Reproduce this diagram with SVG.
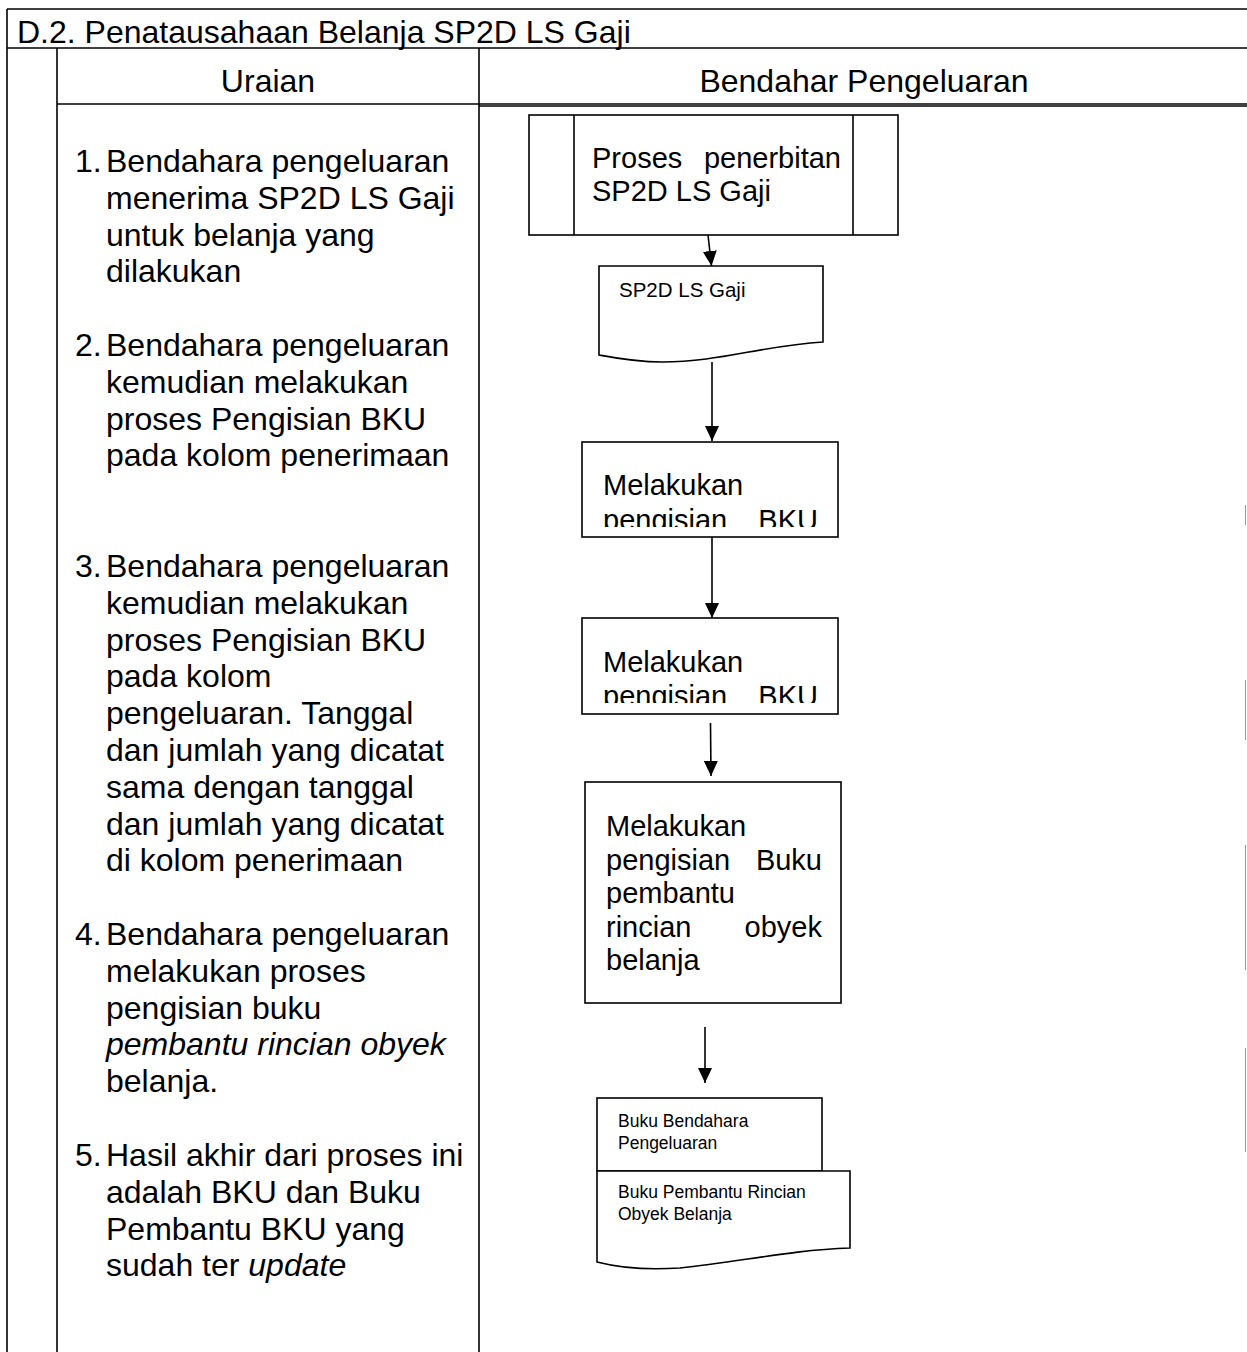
<svg xmlns="http://www.w3.org/2000/svg" width="1247" height="1352" viewBox="0 0 1247 1352">
<style>
  .ln { stroke:#000; stroke-width:1.6; fill:none; }
  .shape { stroke:#000; stroke-width:1.6; fill:#fff; }
  .t { font-family:"Liberation Sans", Arial, sans-serif; fill:#000; }
  .title { font-size:32px; }
  .hdr { font-size:32px; text-anchor:middle; }
  .ur { font-size:32px; }
  .bx { font-size:29px; }
  .doc { font-size:17.5px; }
  .docL { font-size:20.5px; }
  .it { font-style:italic; }
  .faint { stroke:#999; stroke-width:1; }
</style>
<defs>
  <marker id="arr" viewBox="0 0 15 14" refX="15" refY="7" markerWidth="15" markerHeight="14" markerUnits="userSpaceOnUse" orient="auto">
    <path d="M0,0 L15,7 L0,14 Z" fill="#000"/>
  </marker>
  <clipPath id="clip1"><rect x="582" y="442" width="256" height="85"/></clipPath>
  <clipPath id="clip2"><rect x="582" y="618" width="256" height="85"/></clipPath>
</defs>
<rect width="1247" height="1352" fill="#fff"/>

<g id="table">
  <line class="ln" x1="7" y1="9" x2="1247" y2="9"/>
  <line class="ln" x1="7" y1="48" x2="1247" y2="48"/>
  <line class="ln" x1="7" y1="9" x2="7" y2="1352"/>
  <line class="ln" x1="57" y1="48" x2="57" y2="1352"/>
  <line class="ln" x1="479" y1="48" x2="479" y2="1352"/>
  <line class="ln" x1="57" y1="104" x2="1247" y2="104"/>
  <line class="ln" x1="479" y1="106" x2="1247" y2="106" stroke-width="1"/>
  <line class="faint" x1="1245.5" y1="505" x2="1245.5" y2="525"/>
  <line class="faint" x1="1245.5" y1="680" x2="1245.5" y2="740"/>
  <line class="faint" x1="1245.5" y1="845" x2="1245.5" y2="970"/>
  <line class="faint" x1="1245.5" y1="1048" x2="1245.5" y2="1152"/>
  <text class="t title" x="17" y="43">D.2. Penatausahaan Belanja SP2D LS Gaji</text>
  <text class="t hdr" x="268" y="92">Uraian</text>
  <text class="t hdr" x="864" y="92">Bendahar Pengeluaran</text>
</g>

<g id="uraian">
  <g id="step1">
    <text class="t ur" x="75" y="172">1.</text>
    <text class="t ur" x="106" y="172">Bendahara pengeluaran</text>
    <text class="t ur" x="106" y="208.8">menerima SP2D LS Gaji</text>
    <text class="t ur" x="106" y="245.6">untuk belanja yang</text>
    <text class="t ur" x="106" y="282.4">dilakukan</text>
  </g>
  <g id="step2">
    <text class="t ur" x="75" y="356">2.</text>
    <text class="t ur" x="106" y="356">Bendahara pengeluaran</text>
    <text class="t ur" x="106" y="392.8">kemudian melakukan</text>
    <text class="t ur" x="106" y="429.6">proses Pengisian BKU</text>
    <text class="t ur" x="106" y="466.4">pada kolom penerimaan</text>
  </g>
  <g id="step3">
    <text class="t ur" x="75" y="577">3.</text>
    <text class="t ur" x="106" y="577">Bendahara pengeluaran</text>
    <text class="t ur" x="106" y="613.8">kemudian melakukan</text>
    <text class="t ur" x="106" y="650.6">proses Pengisian BKU</text>
    <text class="t ur" x="106" y="687.4">pada kolom</text>
    <text class="t ur" x="106" y="724.2">pengeluaran. Tanggal</text>
    <text class="t ur" x="106" y="761">dan jumlah yang dicatat</text>
    <text class="t ur" x="106" y="797.8">sama dengan tanggal</text>
    <text class="t ur" x="106" y="834.6">dan jumlah yang dicatat</text>
    <text class="t ur" x="106" y="871.4">di kolom penerimaan</text>
  </g>
  <g id="step4">
    <text class="t ur" x="75" y="945">4.</text>
    <text class="t ur" x="106" y="945">Bendahara pengeluaran</text>
    <text class="t ur" x="106" y="981.8">melakukan proses</text>
    <text class="t ur" x="106" y="1018.6">pengisian buku</text>
    <text class="t ur it" x="106" y="1055.4">pembantu rincian obyek</text>
    <text class="t ur" x="106" y="1092.2">belanja.</text>
  </g>
  <g id="step5">
    <text class="t ur" x="75" y="1166">5.</text>
    <text class="t ur" x="106" y="1166">Hasil akhir dari proses ini</text>
    <text class="t ur" x="106" y="1202.8">adalah BKU dan Buku</text>
    <text class="t ur" x="106" y="1239.6">Pembantu BKU yang</text>
    <text class="t ur" x="106" y="1276.4">sudah ter <tspan class="it">update</tspan></text>
  </g>
</g>

<g id="connectors">
  <line class="ln" x1="708" y1="235" x2="711.5" y2="266" marker-end="url(#arr)"/>
  <line class="ln" x1="712" y1="362" x2="712" y2="441" marker-end="url(#arr)"/>
  <line class="ln" x1="712" y1="537" x2="712" y2="618" marker-end="url(#arr)"/>
  <line class="ln" x1="710.5" y1="723" x2="711" y2="776" marker-end="url(#arr)"/>
  <line class="ln" x1="705" y1="1027" x2="705" y2="1083" marker-end="url(#arr)"/>
</g>

<g id="proses-penerbitan">
  <rect class="shape" x="529" y="115" width="369" height="120"/>
  <line class="ln" x1="574" y1="115" x2="574" y2="235"/>
  <line class="ln" x1="853" y1="115" x2="853" y2="235"/>
  <text class="t bx" x="592" y="168">Proses</text>
  <text class="t bx" x="841" y="168" text-anchor="end">penerbitan</text>
  <text class="t bx" x="592" y="201">SP2D LS Gaji</text>
</g>

<g id="doc-sp2d">
  <path class="shape" d="M599,266 H823 V342 C760,346 720,362 662,362 C635,362 615,358 599,355 Z"/>
  <text class="t docL" x="619" y="297">SP2D LS Gaji</text>
</g>

<g id="bku-penerimaan">
  <rect class="shape" x="582" y="442" width="256" height="95"/>
  <g clip-path="url(#clip1)">
    <text class="t bx" x="603" y="495">Melakukan</text>
    <text class="t bx" x="603" y="530">pengisian</text>
    <text class="t bx" x="818" y="530" text-anchor="end">BKU</text>
  </g>
</g>

<g id="bku-pengeluaran">
  <rect class="shape" x="582" y="618" width="256" height="96"/>
  <g clip-path="url(#clip2)">
    <text class="t bx" x="603" y="672">Melakukan</text>
    <text class="t bx" x="603" y="706">pengisian</text>
    <text class="t bx" x="818" y="706" text-anchor="end">BKU</text>
  </g>
</g>

<g id="buku-pembantu">
  <rect class="shape" x="585" y="782" width="256" height="221"/>
  <text class="t bx" x="606" y="836">Melakukan</text>
  <text class="t bx" x="606" y="870">pengisian</text>
  <text class="t bx" x="822" y="870" text-anchor="end">Buku</text>
  <text class="t bx" x="606" y="903">pembantu</text>
  <text class="t bx" x="606" y="937">rincian</text>
  <text class="t bx" x="822" y="937" text-anchor="end">obyek</text>
  <text class="t bx" x="606" y="970">belanja</text>
</g>

<g id="doc-output">
  <rect class="shape" x="597" y="1098" width="225" height="73"/>
  <text class="t doc" x="618" y="1127">Buku Bendahara</text>
  <text class="t doc" x="618" y="1149">Pengeluaran</text>
  <path class="shape" d="M597,1171 H850 V1248 C790,1250 740,1262 680,1268 C650,1270 620,1268 597,1262 Z"/>
  <text class="t doc" x="618" y="1198">Buku Pembantu Rincian</text>
  <text class="t doc" x="618" y="1220">Obyek Belanja</text>
</g>
</svg>
